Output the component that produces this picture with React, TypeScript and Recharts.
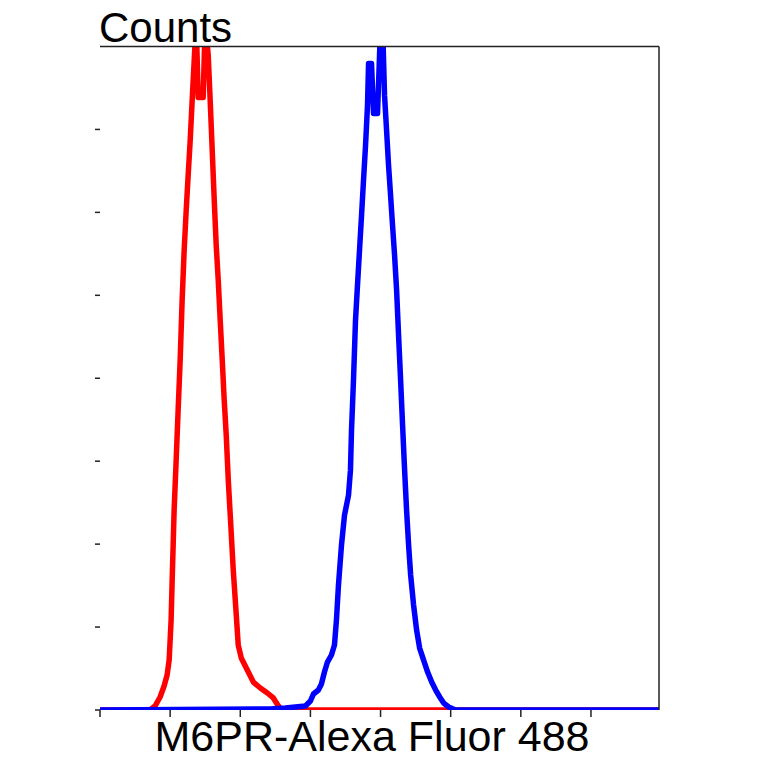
import React from 'react';
import { LineChart, Line, XAxis, YAxis } from 'recharts';

// Fluorescence channel (x) and cell counts (y)
const redX = [0, 71.4, 78.6, 85.7, 91.4, 95.7, 98.6, 100, 101.4, 102.9, 105.7, 108.6, 111.4, 114.3, 117.1, 120, 122.9, 125.7, 128.6, 131.4, 134.3, 137.1, 140, 147.1, 150, 154.3, 157.1, 160, 162.9, 165.7, 168.6, 171.4, 174.3, 177.1, 180, 182.9, 185.7, 190, 194.3, 197.1, 201.4, 210, 218.6, 228.6, 238.6, 247.1, 254.3, 258.6, 800];
const redCounts = [0, 0, 4.8, 15.7, 28.9, 42.2, 60.2, 84.3, 108.4, 156.6, 241, 301.2, 361.4, 421.7, 494, 554.2, 602.4, 644.6, 686.7, 734.9, 783.1, 831.3, 738.6, 738.6, 831.3, 789.2, 734.9, 674.7, 614.5, 560.2, 518.1, 469.9, 421.7, 373.5, 331.3, 277.1, 234.9, 168.7, 114.5, 78.3, 62.7, 48.2, 33.7, 26.5, 20.5, 14.5, 4.8, 0, 0];

const blueX = [0, 242.9, 264.3, 278.6, 292.9, 300, 304.3, 311.4, 315.7, 320, 324.3, 330, 334.3, 337.1, 340, 344.3, 348.6, 354.3, 357.1, 358.6, 361.4, 364.3, 367.1, 370, 372.9, 375.7, 378.6, 381.4, 382.9, 387.1, 390, 395.7, 400, 402.9, 405.7, 408.6, 411.4, 414.3, 417.1, 420, 422.9, 425.7, 428.6, 431.4, 434.3, 437.1, 440, 442.9, 447.1, 451.4, 455.7, 461.4, 467.1, 472.9, 478.6, 484.3, 490, 497.1, 507.1, 800];
const blueCounts = [0, 1.2, 2.4, 3.6, 4.8, 10.8, 19.3, 24.1, 31.3, 45.8, 57.8, 66.3, 78.3, 108.4, 150.6, 198.8, 234.9, 259, 289.2, 337.3, 397.6, 469.9, 512, 554.2, 596.4, 638.6, 680.7, 728.9, 779.5, 779.5, 719.3, 719.3, 825.3, 825.3, 741, 698.8, 656.6, 620.5, 584.3, 548.2, 506, 451.8, 397.6, 343.4, 289.2, 241, 198.8, 162.7, 126.5, 96.4, 74.7, 60.2, 45.8, 33.7, 24.1, 15.7, 8.4, 3.6, 0, 0];

const xTicks = [0, 100, 200, 300, 400, 500, 600, 700];
const yTicks = [0, 100, 200, 300, 400, 500, 600, 700];
const yTitle = 'Counts';
const xTitle = 'M6PR-Alexa Fluor 488';

const redData = redX.map((x, i) => ({ x, count: redCounts[i] }));
const blueData = blueX.map((x, i) => ({ x, count: blueCounts[i] }));

const FONT = '"Liberation Sans", Arial, sans-serif';
const EmptyTick = () => <g />;

export default function App() {
  return (
    <div style={{ position: 'relative', width: 748, height: 756 }}>
      <LineChart
        width={748}
        height={748}
        margin={{ top: 37.5, right: 96, bottom: 45, left: 91 }}
      >
        <XAxis
          dataKey="x"
          type="number"
          domain={[0, 797]}
          ticks={xTicks}
          allowDataOverflow
          height={1}
          axisLine={false}
          tickSize={7}
          tickLine={{ stroke: '#222', strokeWidth: 1.5 }}
          tick={EmptyTick}
          interval={0}
        />
        <XAxis
          xAxisId="top"
          orientation="top"
          dataKey="x"
          type="number"
          domain={[0, 797]}
          ticks={[0, 797]}
          height={1}
          tick={EmptyTick}
          tickLine={false}
          axisLine={{ stroke: '#222', strokeWidth: 1.5 }}
        />
        <YAxis
          type="number"
          domain={[0, 800]}
          ticks={yTicks}
          allowDataOverflow
          width={1}
          axisLine={false}
          tickSize={5}
          tickLine={{ stroke: '#222', strokeWidth: 1.5 }}
          tick={EmptyTick}
          interval={0}
        />
        <YAxis
          yAxisId="right"
          orientation="right"
          type="number"
          domain={[0, 800]}
          ticks={[0, 800]}
          width={1}
          tick={EmptyTick}
          tickLine={false}
          axisLine={{ stroke: '#222', strokeWidth: 1.5 }}
        />
        <Line
          data={redData}
          dataKey="count"
          type="linear"
          stroke="#ff0000"
          strokeWidth={5.5}
          strokeLinejoin="round"
          dot={false}
          activeDot={false}
          isAnimationActive={false}
        />
        <Line
          data={blueData}
          dataKey="count"
          type="linear"
          stroke="#0000ff"
          strokeWidth={5.5}
          strokeLinejoin="round"
          dot={false}
          activeDot={false}
          isAnimationActive={false}
        />
      </LineChart>
      <svg
        width={748}
        height={756}
        style={{ position: 'absolute', left: 0, top: 0, pointerEvents: 'none', overflow: 'visible' }}
      >
        <text x={91} y={33.5} fontFamily={FONT} fontSize={42} fill="#000">
          {yTitle}
        </text>
        <text x={364} y={743} fontFamily={FONT} fontSize={43} fill="#000" textAnchor="middle">
          {xTitle}
        </text>
      </svg>
    </div>
  );
}
